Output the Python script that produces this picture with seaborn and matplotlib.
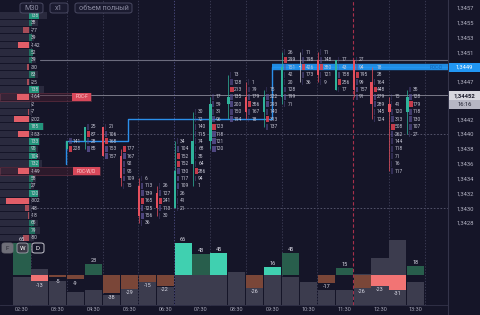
import numpy as np
import matplotlib
matplotlib.use("Agg")
import matplotlib.pyplot as plt
import matplotlib.transforms as mtransforms
from matplotlib.patches import Rectangle, FancyBboxPatch
import seaborn as sns

# ---------------- data ----------------
bar_times = ["02:30", "03:00", "03:30", "04:00", "04:30", "05:00", "05:30",
             "06:00", "06:30", "07:00", "07:30", "08:00", "08:30", "09:00",
             "09:30", "10:00", "10:30", "11:00", "11:30", "12:00", "12:30",
             "13:00", "13:30"]
time_tick_labels = ["02:30", "03:30", "04:30", "05:30", "06:30", "07:30",
                    "08:30", "09:30", "10:30", "11:30", "12:30", "13:30"]

bar_volume = [280, 360, 240, 130, 150, 100, 200, 230, 180, 310, 310, 310,
              330, 170, 310, 280, 230, 150, 150, 310, 470, 650, 230]
bar_delta = [65, -13, -5, -9, 23, -38, -29, -15, -22, 66, 43, 45,
             0, -26, 16, 45, 0, -17, 15, -26, -23, -31, 18]
delta_strong = [False, True, False, False, False, False, False, False, False,
                True, False, True, False, False, True, False, False, False,
                False, False, True, True, False]

nan = np.nan
candle_open = [nan, nan, nan, 1.3438, 1.3439, 1.3441, 1.3437, 1.3433, 1.3432,
               1.3430, 1.3436, 1.3439, 1.3444, 1.3445, 1.3443, 1.3445, 1.3449,
               1.3450, 1.3446, 1.3450, 1.3447, 1.3444, 1.3443]
candle_close = [nan, nan, nan, 1.3439, 1.3441, 1.3437, 1.3434, 1.3429, 1.3430,
                1.3435, 1.3439, 1.3444, 1.3445, 1.3443, 1.3445, 1.3449, 1.3449,
                1.3448, 1.3450, 1.3446, 1.3444, 1.3443, 1.3445]
candle_high = [nan, nan, nan, 1.3439, 1.3441, 1.3441, 1.3438, 1.3434, 1.3433,
               1.3439, 1.3443, 1.3445, 1.3448, 1.3447, 1.3446, 1.3451, 1.3451,
               1.3451, 1.3450, 1.3450, 1.3449, 1.3445, 1.3446]
candle_low = [nan, nan, nan, 1.3438, 1.3438, 1.3437, 1.3433, 1.3428, 1.3429,
              1.3430, 1.3433, 1.3438, 1.3442, 1.3442, 1.3441, 1.3444, 1.3447,
              1.3447, 1.3446, 1.3445, 1.3442, 1.3435, 1.3440]

# footprint: top price level of each bar and the volume at each level (top -> bottom)
fp_top = [nan, nan, nan, 1.3439, 1.3441, 1.3441, 1.3438, 1.3434, 1.3433,
          1.3439, 1.3443, 1.3445, 1.3448, 1.3447, 1.3446, 1.3451, 1.3451,
          1.3451, 1.3450, 1.3450, 1.3449, 1.3445, 1.3446]
fp_values = [
    [], [], [],
    [141, 228],
    [25, 87, 28, 85],
    [21, 106, 168, 153, 157],
    [177, 167, 92, 95, 109, 15],
    [6, 113, 139, 165, 125, 156, 36],
    [26, 127, 241, 113, 30],
    [34, 104, 152, 152, 130, 117, 109, 26, 41, 21],
    [30, 72, 140, 115, 74, 68, 35, 64, 286, 94, 1],
    [17, 59, 31, 96, 123, 118, 121, 120],
    [13, 128, 213, 135, 200, 150, 194],
    [1, 79, 179, 356, 167, 18],
    [15, 222, 293, 140, 313, 137],
    [26, 299, 151, 42, 20, 128, 199, 71],
    [11, 198, 426, 173, 36],
    [11, 148, 380, 121, 9],
    [17, 43, 158, 256, 17],
    [27, 94, 195, 99, 157, 91],
    [18, 28, 164, 448, 279, 289, 145, 124],
    [15, 41, 120, 313, 508, 262, 144, 118, 71, 16, 117],
    [35, 128, 179, 118, 130, 107, 27],
]

# composite volume profile (top level 1.3456, one row per tick)
profile_top = 1.3456
profile_delta = [138, 38, -77, 39, -142, 52, 39, -30, 83, -25, 138, -164, -2,
                 -7, -202, 185, -153, 133, 95, 104, 132, -149, 58, 27, 120,
                 -302, -48, -18, 65, 79, -80]
profile_volume = [630, 510, 400, 450, 400, 430, 480, 370, 510, 400, 590, 530,
                  400, 430, 400, 590, 430, 530, 510, 530, 560, 480, 480, 450,
                  530, 400, 430, 400, 510, 530, 450]
poc_names = ["POC-F", "POC-W/D"]
poc_prices = [1.3445, 1.3435]

price_ticks = [1.3457, 1.3455, 1.3453, 1.3451, 1.3449, 1.3447, 1.3442, 1.3440,
               1.3438, 1.3436, 1.3434, 1.3432, 1.3430, 1.3428]
current_price = 1.34452
current_time = "16:16"
day_poc = 1.3449
level_line = 1.3450
dpoc_change_x = [2.46, 5.92, 13.97]
dpoc_levels = [1.3436, 1.3439, 1.3442, 1.3449]

# ---------------- style / layout ----------------
BG = "#151528"
W, H = 480, 315
X0_PX, BAR_PX = 22.0, 17.9
CHART_R = 448.0
XLIM = (-X0_PX / BAR_PX, (CHART_R - X0_PX) / BAR_PX)
PX_PER_PRICE = 14.83 / 0.0002
P_TOP = 1.3440 + 134 / PX_PER_PRICE
P_BOT = 1.3440 - (H - 134) / PX_PER_PRICE
TICK = 0.0001

sns.set_theme(style="dark")
plt.rcParams["font.family"] = ["Roboto", "DejaVu Sans"]
plt.rcParams["axes.facecolor"] = BG
plt.rcParams["figure.facecolor"] = BG

fig = plt.figure(figsize=(4.8, 3.15), dpi=100)
ax = fig.add_axes([0, 0, CHART_R / W, 1])
ax.set_facecolor(BG)
ax.set_xlim(*XLIM)
ax.set_ylim(P_BOT, P_TOP)
for s in ["top", "left", "bottom"]:
    ax.spines[s].set_visible(False)
ax.spines["right"].set_color("#34344a")
ax.spines["right"].set_linewidth(0.8)
ax.grid(False)

# grid
for p in [1.3440, 1.3430]:
    ax.axhline(p, color="#5c5c74", lw=0.6, ls=(0, (2, 2)), zorder=1)
for k in range(12):
    xv = 0.5 + 2 * k
    if k == 9:
        ax.axvline(xv, ymin=10 / H, color="#a8304c", lw=0.8, ls=(0, (3, 2)), zorder=1)
    else:
        col = "#52528a" if k == 4 else "#40405a"
        ax.axvline(xv, ymin=10 / H, color=col, lw=0.6, ls=(0, (1.5, 2)), zorder=1)

# level lines
ax.plot([1.0, XLIM[1]], [level_line, level_line], color="#6c6c7e", lw=0.8, zorder=2)
ax.axhline(current_price, color="#7a7a88", lw=0.7, zorder=2)

# developing POC line
sx = [dpoc_change_x[0]] + dpoc_change_x + [XLIM[1]]
sy = dpoc_levels + [dpoc_levels[-1]]
ax.plot(sx, sy, drawstyle="steps-post", color="#2b8fea", lw=1.0, zorder=3)
ax.plot([dpoc_change_x[-1], XLIM[1]], [day_poc, day_poc], color="#2196f3",
        lw=4.6, alpha=0.92, solid_capstyle="butt", zorder=3)
ax.text(XLIM[1] - 0.3, day_poc, "POC-D", color="#1360b0", fontsize=3.3,
        ha="right", va="center", zorder=4)

# footprint cells + numbers
for i, (top, vals) in enumerate(zip(fp_top, fp_values)):
    if not vals:
        continue
    vmax = max(vals)
    for k, v in enumerate(vals):
        lvl = top - k * TICK
        frac = v / vmax
        if v == vmax:
            fc, al = "#d8404f", 0.9
        else:
            fc, al = "#5e5498", 0.3 + 0.5 * frac
        ax.add_patch(Rectangle((i - 0.36, lvl - 0.00004), 0.04 + 0.14 * frac,
                               0.00008, facecolor=fc, alpha=al, lw=0, zorder=5))
        ax.text(i - 0.16, lvl, str(v), color="#c8c8d6", fontsize=3.5,
                ha="left", va="center", zorder=7)

# candles
for i in range(len(bar_times)):
    o, c, h, l = candle_open[i], candle_close[i], candle_high[i], candle_low[i]
    if np.isnan(o):
        continue
    if c > o:
        col = "#2fb39a"
    elif c < o:
        col = "#e6505e"
    else:
        col = "#c8c8d4"
    xc = i - 0.47
    ax.vlines(xc, l, h, color=col, lw=0.7, alpha=0.75, zorder=6)
    lo, hi = min(o, c), max(o, c)
    ax.add_patch(Rectangle((xc - 0.065, lo), 0.13, max(hi - lo, 0.00002),
                           facecolor=col, lw=0, zorder=6))

# right price scale
ax.yaxis.tick_right()
ax.set_yticks(price_ticks)
ax.set_yticklabels([f"{p:.4f}".replace(".", ",") for p in price_ticks])
ax.tick_params(axis="y", length=0, pad=6.5, labelsize=4.2, labelcolor="#b4b4c4")
ax.set_xticks([])

blend = mtransforms.blended_transform_factory(fig.transFigure, ax.transData)


def price_box(p, txt, face, tcol, h=0.000115, bold=False):
    ax.add_patch(Rectangle((449 / W, p - h / 2), 31 / W, h, transform=blend,
                           facecolor=face, lw=0, clip_on=False, zorder=10))
    ax.text(464.5 / W, p, txt, transform=blend, color=tcol, fontsize=4.2,
            ha="center", va="center", clip_on=False, zorder=11,
            fontweight="bold" if bold else "normal")


price_box(day_poc, f"{day_poc:.4f}".replace(".", ","), "#2196f3", "#ffffff")
price_box(current_price, f"{current_price:.5f}".replace(".", ","), "#d6d6de",
          "#1c1c2c", bold=True)
price_box(current_price - 0.000125, current_time, "#b6b6c4", "#1c1c2c")

# ---------------- left volume profile ----------------
PX_UNIT = 0.075
axp = fig.add_axes([0, 0, 110 / W, 1])
axp.set_xlim(0, 110 / PX_UNIT)
axp.set_ylim(P_BOT, P_TOP)
axp.patch.set_alpha(0)
axp.axis("off")
anchor = 29 / PX_UNIT
levels = [profile_top - k * TICK for k in range(len(profile_delta))]
axp.barh(levels, profile_volume, height=0.000086, left=0, color="#2a2a3e",
         lw=0, zorder=1)
for lvl, d in zip(levels, profile_delta):
    if d >= 0:
        col = "#23957c" if d > 100 else "#1f6e5e"
    else:
        col = "#e25e68" if d < -100 else "#a84c58"
    axp.barh(lvl, d, height=0.000086, left=anchor, color=col, lw=0, zorder=2)
    axp.text(31 / PX_UNIT, lvl, str(d), color="#d0d0dc", fontsize=3.5,
             ha="left", va="center", zorder=4)
for name, p in zip(poc_names, poc_prices):
    band_r = (91 if name == "POC-F" else 100) / PX_UNIT
    box_l = (72 if name == "POC-F" else 73) / PX_UNIT
    axp.add_patch(Rectangle((0, p - 0.00005), band_r, 0.0001, facecolor="#4a1e30",
                            alpha=0.45, edgecolor="#b04a5c", lw=0.5, zorder=1.5))
    axp.add_patch(Rectangle((box_l, p - 0.00005), band_r - box_l, 0.0001,
                            facecolor="#d8485a", lw=0, zorder=3))
    axp.text((box_l + band_r) / 2, p, name, color="#ffd4d4", fontsize=3.3,
             ha="center", va="center", zorder=4)

# ---------------- bottom volume / delta panel ----------------
axv = fig.add_axes([0, 10 / H, CHART_R / W, 73 / H])
axv.patch.set_alpha(0)
idx = list(range(len(bar_times)))
sns.barplot(x=idx, y=bar_volume, color="#3c3c4e", saturation=1, width=0.95,
            linewidth=0, ax=axv)
axv.set_xlim(*XLIM)
axv.set_ylim(0, 730)
axv.set_xlabel("")
axv.set_ylabel("")
axv.set_yticks([])
axv.set_xticks(range(0, len(bar_times), 2))
axv.set_xticklabels(time_tick_labels)
axv.tick_params(axis="x", length=0, pad=1.5, labelsize=4, labelcolor="#a8a8b8")
for s in ["top", "left", "right"]:
    axv.spines[s].set_visible(False)
axv.spines["bottom"].set_color("#34344a")
axv.spines["bottom"].set_linewidth(0.6)
axv.grid(False)

axd = axv.twinx()
axd.set_ylim(-61.9, 88.7)
axd.set_xlim(*XLIM)
axd.axis("off")
dcols = []
for d, strong in zip(bar_delta, delta_strong):
    if d >= 0:
        dcols.append("#40d0b0" if strong else "#285e4c")
    else:
        dcols.append("#f27474" if strong else "#7a4638")
axd.bar(idx, bar_delta, width=0.95, color=dcols, lw=0, zorder=3)
for i, d in enumerate(bar_delta):
    if d == 0:
        continue
    if d > 0:
        axd.text(i, d + 2.5, str(d), color="#d8d8e4", fontsize=4, ha="center",
                 va="bottom", zorder=4)
    else:
        axd.text(i, d - 2.5, str(d), color="#d8d8e4", fontsize=4, ha="center",
                 va="top", zorder=4)

# ---------------- chips / buttons ----------------
def chip(x0, y0, x1, y1, txt, face, edge, tcol, fs):
    fig.add_artist(FancyBboxPatch((x0 / W, 1 - y1 / H), (x1 - x0) / W, (y1 - y0) / H,
                                  boxstyle="round,pad=0,rounding_size=0.006",
                                  transform=fig.transFigure, facecolor=face,
                                  edgecolor=edge, lw=0.6, zorder=20))
    fig.text((x0 + x1) / 2 / W, 1 - (y0 + y1) / 2 / H, txt, color=tcol,
             fontsize=fs, ha="center", va="center", zorder=21)


chip(20, 3, 43, 13, "M30", "#1b1b30", "#50506a", "#8c8ca2", 5.2)
chip(50, 3, 68, 13, "x1", "#1b1b30", "#50506a", "#8c8ca2", 5.2)
chip(75, 3, 132, 13, "объем полный", "#1b1b30", "#50506a", "#8c8ca2", 5.2)
chip(2, 243, 13, 253, "F", "#6e6e78", "#6e6e78", "#2a2a34", 4.5)
chip(17, 243, 28, 253, "W", "#3a3a46", "#a4a4b0", "#ffffff", 4.5)
chip(32, 243, 44, 253, "D", BG, "#e0e0e8", "#ffffff", 4.5)

fig.savefig("out.png", dpi=100, facecolor=BG)
